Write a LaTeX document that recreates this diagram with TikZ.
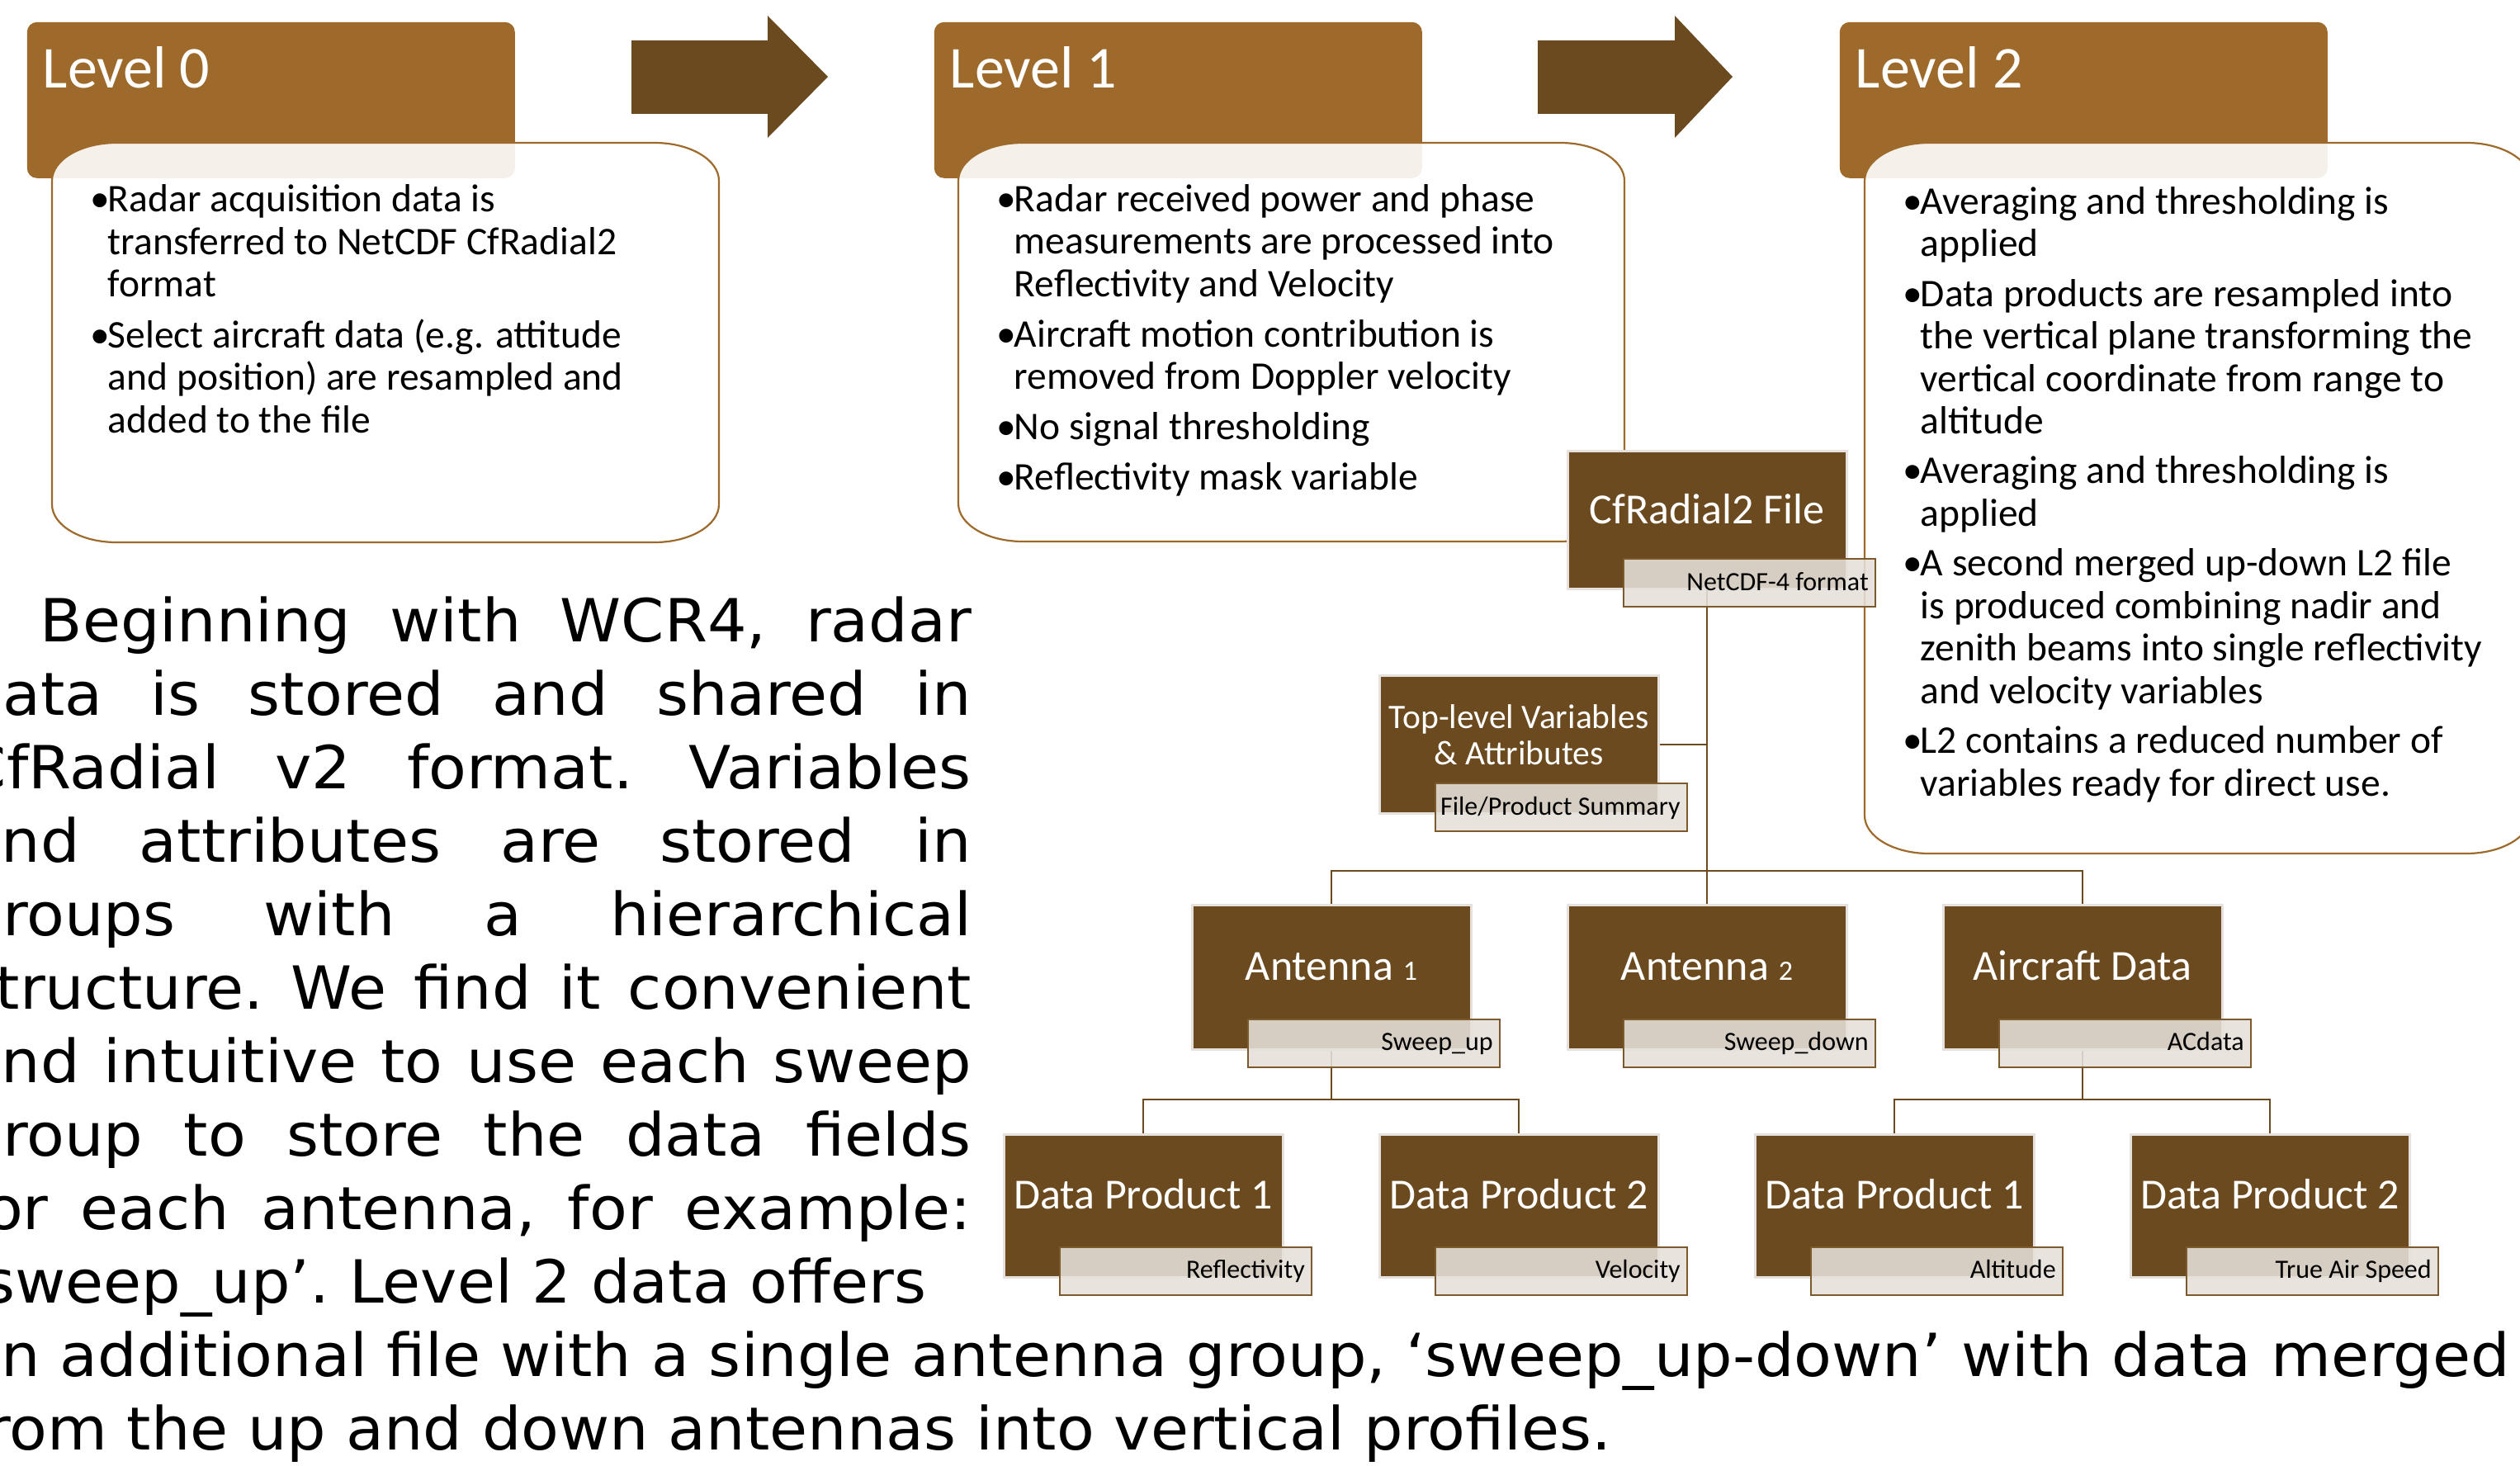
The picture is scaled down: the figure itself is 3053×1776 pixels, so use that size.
\documentclass[tikz,border=0pt]{standalone}
\usepackage{fontspec}
\newfontfamily\calfont{Carlito}
\newfontfamily\parafont[FakeStretch=1.04]{DejaVu Sans}
\definecolor{hdrc}{HTML}{9E6A2B}
\definecolor{dark}{HTML}{6A4A1E}
\definecolor{boxb}{HTML}{E6E1DC}
\definecolor{lblf}{HTML}{E6E0DA}
\definecolor{lblb}{HTML}{7D5A2C}
\newcommand\bl{\makebox[5.25pt][l]{•}}
\newcommand\ind{\hspace*{5.25pt}}
\newcommand\bodyshape[6]{(#1+#5,#2) -- (#3-#5,#2) arc[start angle=-90,end angle=0,x radius=#5,y radius=#6] -- (#3,#4-#6) arc[start angle=0,end angle=90,x radius=#5,y radius=#6] -- (#1+#5,#4) arc[start angle=90,end angle=180,x radius=#5,y radius=#6] -- (#1,#2+#6) arc[start angle=180,end angle=270,x radius=#5,y radius=#6] -- cycle}
\newcommand\smalldigit[1]{{\fontsize{8.5pt}{10pt}\selectfont #1}}
\tikzset{
 hdr/.style={fill=hdrc, rounded corners=3pt, inner sep=0pt, anchor=north west, minimum width=147.75pt, minimum height=47.25pt},
 htitle/.style={anchor=base west, inner sep=0pt, text=white, font=\calfont\fontsize{18pt}{21pt}\selectfont},
 bodyst/.style={fill=white, fill opacity=0.9, draw=hdrc, line width=0.55pt},
 btext/.style={anchor=base west, inner sep=0pt, align=left, font=\calfont\fontsize{11.875pt}{12.875pt}\selectfont},
 arr/.style={fill=dark},
 dbox/.style={fill=dark, draw=boxb, line width=0.75pt, inner sep=0pt, minimum width=84.5pt},
 lbl/.style={fill=lblf, fill opacity=0.88, draw=lblb, line width=0.5pt, inner sep=0pt, minimum width=76.25pt, minimum height=14.5pt},
 ltext/.style={anchor=base east, inner sep=0pt, font=\calfont\fontsize{8pt}{9pt}\selectfont},
 ttext/.style={anchor=base, inner sep=0pt, text=white, font=\calfont\fontsize{13pt}{15pt}\selectfont},
 conn/.style={draw=dark, line width=0.6pt},
 ptext/.style={anchor=base west, inner sep=0pt, font=\parafont\fontsize{18pt}{22pt}\selectfont\frenchspacing},
}
\begin{document}
\begin{tikzpicture}[x=0.25pt,y=-0.25pt]
\useasboundingbox (0,0) rectangle (3053,1776);
\fill[white] (0,0) rectangle (3053,1776);
\clip (0,0) rectangle (3053,1776);

% headers
\node[hdr] (h0) at (32,26) {};
\node[hdr] (h1) at (1131,26) {};
\node[hdr] (h2) at (2228,26) {};

% arrows
\fill[arr] (765,49) -- (930,49) -- (930,19) -- (1003,93) -- (930,167) -- (930,138) -- (765,138) -- cycle;
\fill[arr] (1863,49) -- (2029,49) -- (2029,19) -- (2099,93) -- (2029,167) -- (2029,138) -- (1863,138) -- cycle;

% bodies
\path[bodyst] \bodyshape{63}{173}{871}{657}{78}{46};
\path[bodyst] \bodyshape{1161}{173}{1968}{656}{78}{46};
\path[bodyst] \bodyshape{2259}{173}{3066}{1034}{78}{46};

% titles
\node[htitle] (t0) at (51,107) {Level 0};
\node[htitle] (t1) at (1150,107) {Level 1};
\node[htitle] (t2) at (2247,107) {Level 2};

% body texts (anchor = baseline of last line)
\node[btext] (b0t) at (109,524) {\bl Radar acquisition data is\\
\ind transferred to NetCDF CfRadial2\\
\ind format\\[2.4pt]
\bl Select aircraft data (e.g. attitude\\
\ind and position) are resampled and\\
\ind added to the file};

\node[btext] (b1t) at (1207,593) {\bl Radar received power and phase\\
\ind measurements are processed into\\
\ind Reflectivity and Velocity\\[2.3pt]
\bl Aircraft motion contribution is\\
\ind removed from Doppler velocity\\[2.3pt]
\bl No signal thresholding\\[2.3pt]
\bl Reflectivity mask variable};

\node[btext] (b2t) at (2305,964) {\bl Averaging and thresholding is\\
\ind applied\\[2.2pt]
\bl Data products are resampled into\\
\ind the vertical plane transforming the\\
\ind vertical coordinate from range to\\
\ind altitude\\[2.2pt]
\bl Averaging and thresholding is\\
\ind applied\\[2.2pt]
\bl A second merged up-down L2 file\\
\ind is produced combining nadir and\\
\ind zenith beams into single reflectivity\\
\ind and velocity variables\\[2.2pt]
\bl L2 contains a reduced number of\\
\ind variables ready for direct use.};

% org chart boxes
\node[dbox, minimum height=41.75pt] (cf) at (2068,630) {};
\node[dbox, minimum height=41.75pt] (tl) at (1840,902) {};
\node[dbox, minimum height=43.75pt] (ant1) at (1613,1183.5) {};
\node[dbox, minimum height=43.75pt] (ant2) at (2068,1183.5) {};
\node[dbox, minimum height=43.75pt] (air) at (2523,1183.5) {};
\node[dbox, minimum height=43.25pt] (dp1l) at (1385,1460.5) {};
\node[dbox, minimum height=43.25pt] (dp2l) at (1840,1460.5) {};
\node[dbox, minimum height=43.25pt] (dp1r) at (2295,1460.5) {};
\node[dbox, minimum height=43.25pt] (dp2r) at (2750,1460.5) {};

% connectors
\coordinate (j0) at (2068,1055);
\coordinate (j1) at (1613,1332);
\coordinate (j2) at (2523,1332);
\draw[conn] (cf.south) -- (ant2.north);
\draw[conn] (tl.east) -- (tl.east -| cf.south);
\draw[conn] (ant1.north) |- (j0) -| (air.north);
\draw[conn] (ant1.south) -- (j1);
\draw[conn] (dp1l.north) |- (j1) -| (dp2l.north);
\draw[conn] (air.south) -- (j2);
\draw[conn] (dp1r.north) |- (j2) -| (dp2r.north);

% labels
\node[lbl] (cfl) at ([shift={(51,-9)}]cf.south) {};
\node[lbl] (tll) at ([shift={(51,-9)}]tl.south) {};
\node[lbl] (ant1l) at ([shift={(51,-9)}]ant1.south) {};
\node[lbl] (ant2l) at ([shift={(51,-9)}]ant2.south) {};
\node[lbl] (airl) at ([shift={(51,-9)}]air.south) {};
\node[lbl] (dp1ll) at ([shift={(51,-9)}]dp1l.south) {};
\node[lbl] (dp2ll) at ([shift={(51,-9)}]dp2l.south) {};
\node[lbl] (dp1rl) at ([shift={(51,-9)}]dp1r.south) {};
\node[lbl] (dp2rl) at ([shift={(51,-9)}]dp2r.south) {};

\node[ltext] (cflt) at ([shift={(-8,-21)}]cfl.south east) {NetCDF-4 format};
\node[ltext] (tllt) at ([shift={(-8,-21)}]tll.south east) {File/Product Summary};
\node[ltext] (ant1lt) at ([shift={(-8,-21)}]ant1l.south east) {Sweep\_up};
\node[ltext] (ant2lt) at ([shift={(-8,-21)}]ant2l.south east) {Sweep\_down};
\node[ltext] (airlt) at ([shift={(-8,-21)}]airl.south east) {ACdata};
\node[ltext] (dp1llt) at ([shift={(-8,-21)}]dp1ll.south east) {Reflectivity};
\node[ltext] (dp2llt) at ([shift={(-8,-21)}]dp2ll.south east) {Velocity};
\node[ltext] (dp1rlt) at ([shift={(-8,-21)}]dp1rl.south east) {Altitude};
\node[ltext] (dp2rlt) at ([shift={(-8,-21)}]dp2rl.south east) {True Air Speed};

% box titles
\node[ttext] (cft) at (2068,634) {CfRadial2 File};
\node[ttext, align=center, font=\calfont\fontsize{10.4pt}{11pt}\selectfont] (tlt) at (1840,926) {Top-level Variables\\\& Attributes};
\node[ttext] (ant1t) at (1613,1187) {Antenna \smalldigit{1}};
\node[ttext] (ant2t) at (2068,1187) {Antenna \smalldigit{2}};
\node[ttext] (airt) at (2523,1187) {Aircraft Data};
\node[ttext] (dp1lt) at (1385,1464) {Data Product 1};
\node[ttext] (dp2lt) at (1840,1464) {Data Product 2};
\node[ttext] (dp1rt) at (2295,1464) {Data Product 1};
\node[ttext] (dp2rt) at (2750,1464) {Data Product 2};

% paragraph
\node[ptext] (p1) at (48,777) {\hbox to 282pt{Beginning with WCR4, radar}};
\node[ptext] (p2) at (-45,866) {\hbox to 305.25pt{data is stored and shared in}};
\node[ptext] (p3) at (-45,955) {\hbox to 305.25pt{CfRadial v2 format. Variables}};
\node[ptext] (p4) at (-45,1044) {\hbox to 305.25pt{and attributes are stored in}};
\node[ptext] (p5) at (-45,1133) {\hbox to 305.25pt{groups with a hierarchical}};
\node[ptext] (p6) at (-45,1222) {\hbox to 305.25pt{structure. We find it convenient}};
\node[ptext] (p7) at (-45,1311) {\hbox to 305.25pt{and intuitive to use each sweep}};
\node[ptext] (p8) at (-45,1400) {\hbox to 305.25pt{group to store the data fields}};
\node[ptext] (p9) at (-45,1489) {\hbox to 305.25pt{for each antenna, for example:}};
\node[ptext] (p10) at (-45,1578) {‘sweep\_up’. Level 2 data offers};
\node[ptext] (p11) at (-45,1667) {an additional file with a single antenna group, ‘sweep\_up-down’ with data merged};
\node[ptext] (p12) at (-45,1756) {from the up and down antennas into vertical profiles.};
\end{tikzpicture}
\end{document}
